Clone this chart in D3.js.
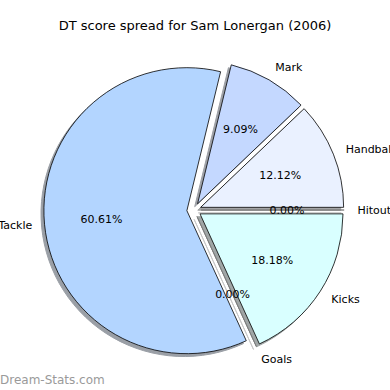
<!doctype html>
<html lang="en">
<head>
  <meta charset="utf-8">
  <title>DT score spread</title>
  <style>
    body { margin: 0; background: #fff; }
    svg { display: block; font-family: "DejaVu Sans", sans-serif; }
  </style>
</head>
<body>
  <svg width="390" height="390"></svg>

  <script src="https://cdn.jsdelivr.net/npm/d3@7/dist/d3.min.js"></script>
  <script>

    // slices in drawing order, counter-clockwise from 3 o'clock
    var labels = ['Handball', 'Mark', 'Tackle', 'Goals', 'Kicks', 'Hitout'];
    var values = [4, 3, 20, 0, 6, 0];
    var colors = ['#eaf1ff', '#c4d8ff', '#b3d5ff', '#d0e8ff', '#d9ffff', '#e0e0e0'];

    var svg = d3.select('svg');

    var cx = 194, cy = 210,
        radius = 143,
        explode = 0.05 * radius,
        shadowOff = 0.02 * radius;

    var total = d3.sum(values);

    // d3 angles: 0 at 12 o'clock, clockwise. matplotlib starts at 3 o'clock, ccw
    var pie = d3.pie()
      .sort(null)
      .value(d => d)
      .startAngle(Math.PI / 2)
      .endAngle(Math.PI / 2 - 2 * Math.PI);

    var arcs = pie(values);

    var arc = d3.arc().innerRadius(0).outerRadius(radius);

    // offset of an exploded wedge along its mid angle
    function shift(a, k) {
      var m = (a.startAngle + a.endAngle) / 2;
      return [Math.sin(m) * k, -Math.cos(m) * k];
    }

    function shadowColor(c) {
      var rgb = d3.rgb(c);
      // 0.3 * facecolor at alpha 0.5 on white
      return d3.rgb(rgb.r * 0.3 * 0.5 + 127.5, rgb.g * 0.3 * 0.5 + 127.5, rgb.b * 0.3 * 0.5 + 127.5);
    }

    var g = svg.append('g').attr('transform', 'translate(' + cx + ',' + cy + ')');

    // shadows first, under every wedge
    g.selectAll('path.shadow')
      .data(arcs)
      .join('path')
      .attr('class', 'shadow')
      .attr('transform', d => {
        var s = shift(d, explode);
        return 'translate(' + (s[0] - shadowOff) + ',' + (s[1] + shadowOff) + ')';
      })
      .attr('d', arc)
      .attr('fill', (d, i) => shadowColor(colors[i]))
      .attr('stroke', (d, i) => d.value === 0 ? '#c8c8c8' : shadowColor(colors[i]))
      .attr('stroke-width', 1);

    g.selectAll('path.wedge')
      .data(arcs)
      .join('path')
      .attr('class', 'wedge')
      .attr('transform', d => {
        var s = shift(d, explode);
        return 'translate(' + s[0] + ',' + s[1] + ')';
      })
      .attr('d', arc)
      .attr('fill', (d, i) => colors[i])
      .attr('stroke', d => d.value === 0 ? '#7a7a7a' : '#000')
      .attr('stroke-width', 0.8)
      .attr('stroke-linejoin', 'round');

    // outside labels (1.1 r) and percentages (0.6 r)
    g.selectAll('text.lbl')
      .data(arcs)
      .join('text')
      .attr('class', 'lbl')
      .each(function(d, i) {
        var s = shift(d, explode);
        var p = shift(d, radius * 1.1);
        var x = s[0] + p[0];
        d3.select(this)
          .attr('x', x > 0 ? x - 1 : x + 2)
          .attr('y', s[1] + p[1])
          .attr('text-anchor', x > 0 ? 'start' : 'end');
      })
      .attr('dy', '0.35em')
      .attr('font-size', 11)
      .attr('fill', '#000')
      .text((d, i) => labels[i]);

    g.selectAll('text.pct')
      .data(arcs)
      .join('text')
      .attr('class', 'pct')
      .each(function(d) {
        var s = shift(d, explode);
        var p = shift(d, radius * 0.6);
        d3.select(this).attr('x', s[0] + p[0]).attr('y', s[1] + p[1]);
      })
      .attr('dy', '0.35em')
      .attr('text-anchor', 'middle')
      .attr('font-size', 11)
      .attr('fill', '#000')
      .text(d => (d.value / total * 100).toFixed(2) + '%');

    svg.append('text')
      .attr('x', 195)
      .attr('y', 25)
      .attr('dy', '0.35em')
      .attr('text-anchor', 'middle')
      .attr('font-size', 13)
      .text('DT score spread for Sam Lonergan (2006)');

    svg.append('text')
      .attr('x', 0)
      .attr('y', 384)
      .attr('font-size', 12)
      .attr('fill', '#9a9a9a')
      .text('Dream-Stats.com');

  </script>
</body>
</html>
